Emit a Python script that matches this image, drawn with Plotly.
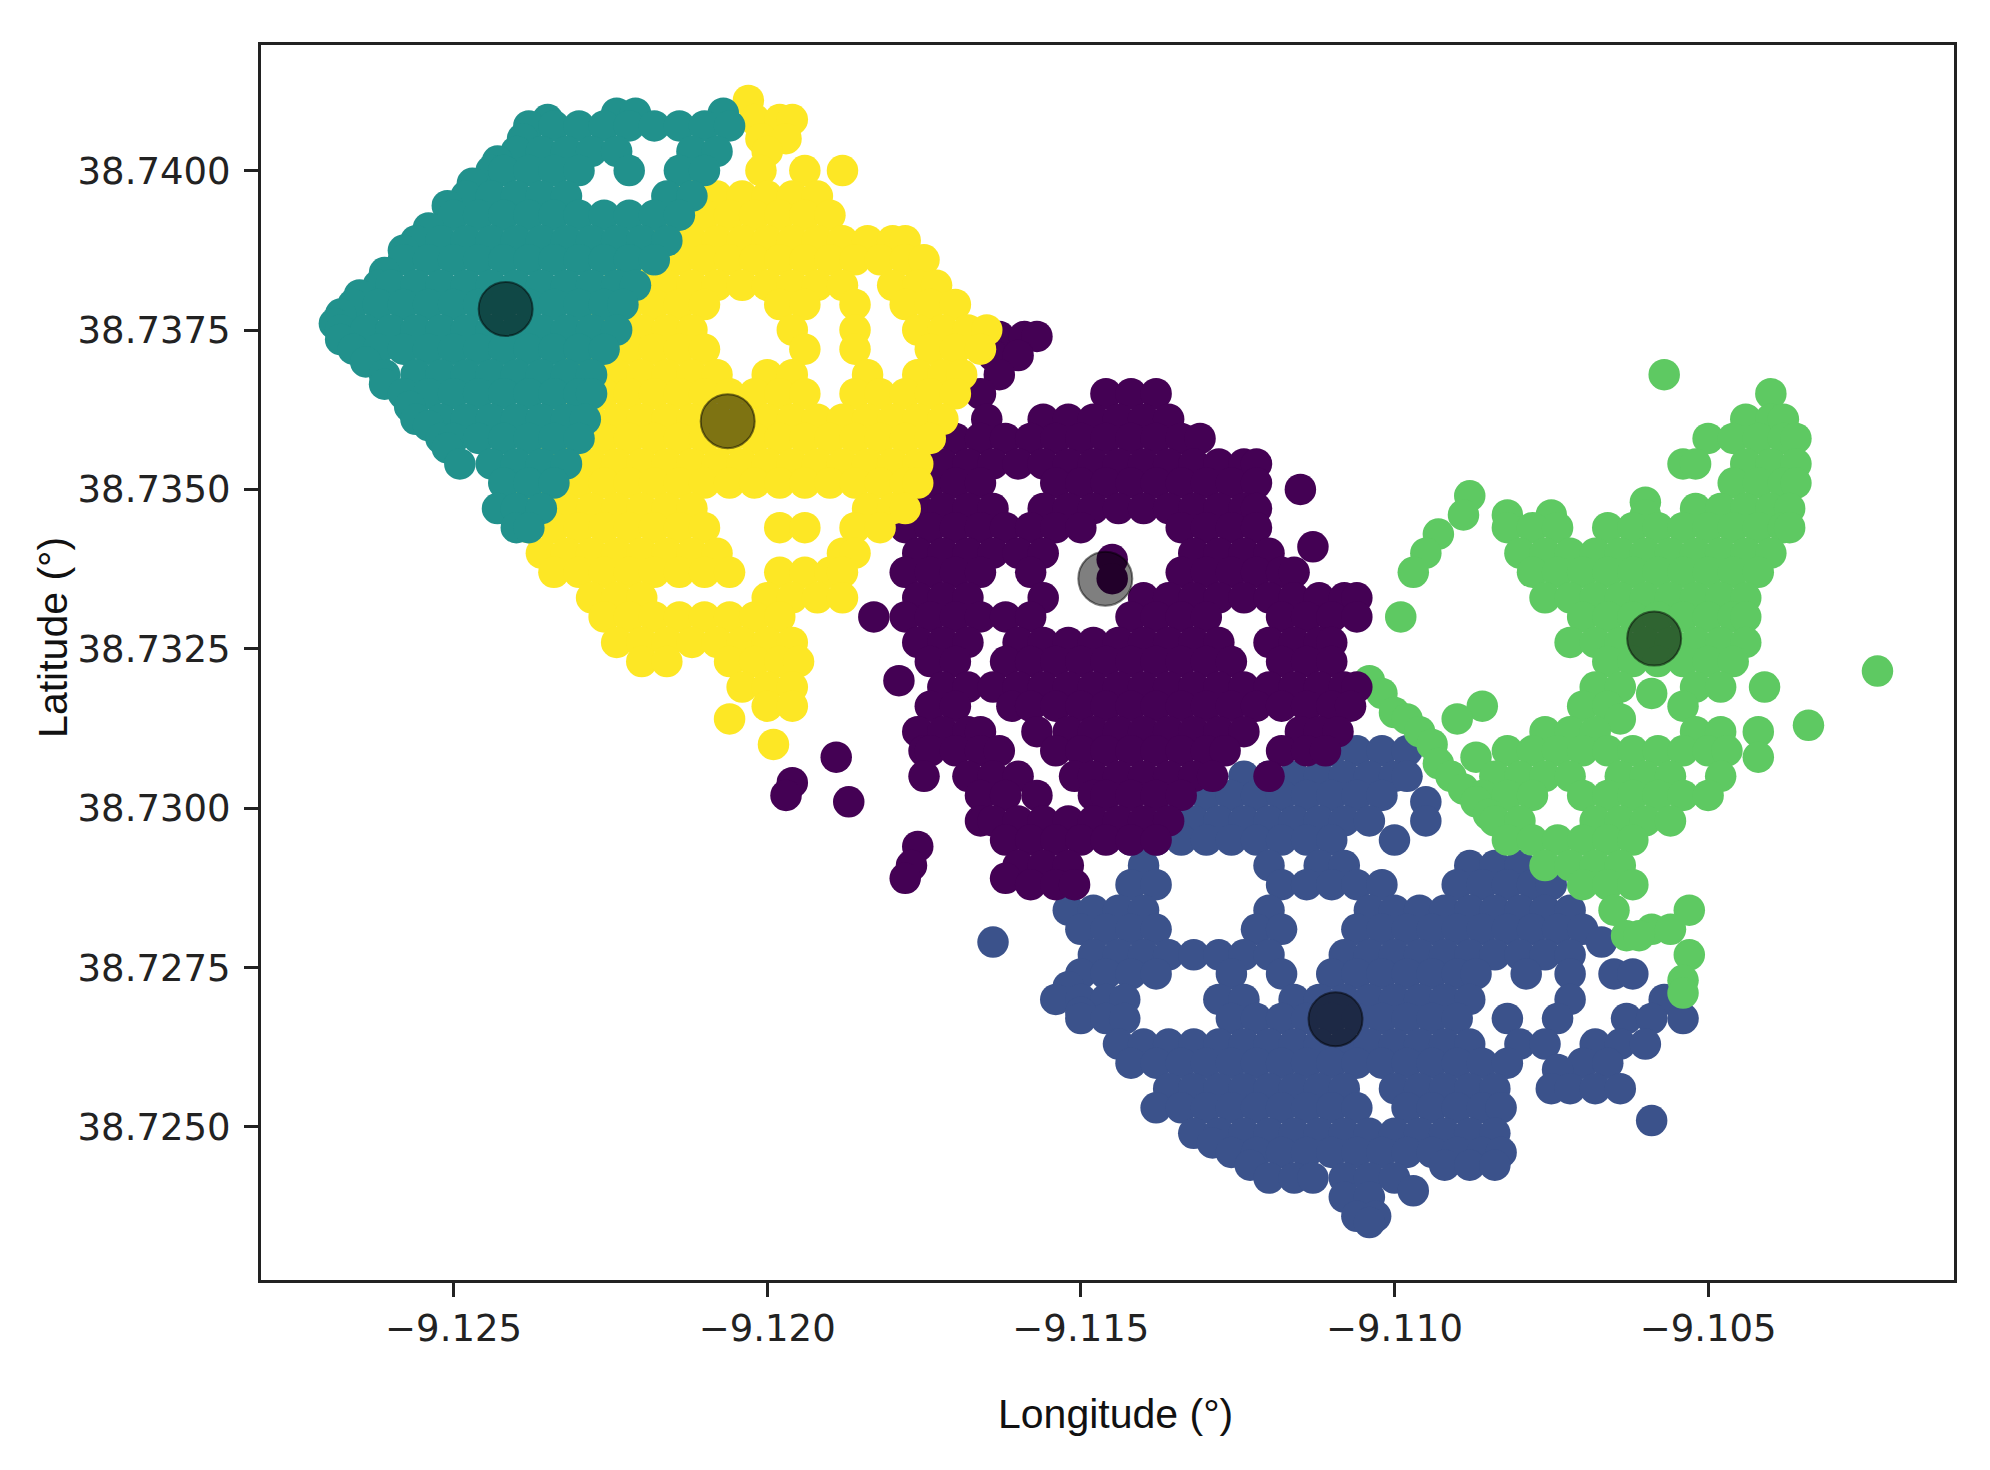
"""K-means clusters of points around Lisbon, with the cluster centres on top."""
import plotly.graph_objects as go

# every row is (lat code, [lon codes])
# lat = 38.72 + code * 1e-4, lon = -9.1 - code * 1e-4
LAT_BASE = 38.72
LON_BASE = -9.1

teal_rows = [
    (209, [224, 221, 207]),
    (208, [235]),
    (207, [238, 234, 230, 226, 222, 218, 214, 210, 206]),
    (205, [239]),
    (203, [240, 236, 232, 228, 224, 212, 208]),
    (201.5, [243]),
    (200, [244, 242, 238, 234, 230, 222, 214, 210]),
    (198, [247]),
    (196, [248, 244, 240, 236, 232, 216, 212]),
    (194.5, [251]),
    (193, [250, 246, 242, 238, 234, 230, 226, 222, 218, 214]),
    (191, [254]),
    (189, [256, 252, 248, 244, 240, 236, 232, 228, 224, 220, 216]),
    (187.5, [258]),
    (186, [258, 254, 250, 246, 242, 238, 234, 230, 226, 222, 218]),
    (184, [261]),
    (182, [262, 260, 256, 252, 248, 244, 240, 236, 232, 228, 224, 221]),
    (180.5, [265]),
    (179, [266, 262, 258, 254, 250, 246, 242, 238, 234, 230, 226, 223]),
    (177.5, [268]),
    (176, [269]),
    (175, [268, 264, 260, 256, 252, 248, 244, 240, 236, 232, 228, 224]),
    (173.5, [268]),
    (172, [266, 262, 258, 254, 250, 246, 242, 238, 234, 230, 226]),
    (170, [264]),
    (168, [261, 256, 252, 248, 244, 240, 236, 232, 228]),
    (166.5, [261]),
    (165, [258, 254, 250, 246, 242, 238, 234, 230, 228]),
    (163, [257]),
    (161, [256, 252, 248, 244, 240, 236, 232, 229]),
    (160, [254]),
    (158, [252, 250, 246, 242, 238, 234, 230]),
    (156.5, [251]),
    (154, [249, 244, 240, 236, 232]),
    (151, [242, 238, 234]),
    (147, [243, 240, 236]),
    (144, [240, 238]),
]

yellow_rows = [
    (211, [203]),
    (208, [202, 198, 196]),
    (205, [201, 197]),
    (203, [200]),
    (200, [201, 194, 188]),
    (196, [212, 208, 204, 200, 196, 192]),
    (193, [214, 210, 206, 202, 198, 194, 190]),
    (189, [216, 212, 208, 204, 200, 196, 192, 188, 184, 180, 178]),
    (186, [218, 214, 210, 206, 202, 198, 194, 190, 186, 182, 178, 175]),
    (182, [224, 220, 216, 212, 208, 204, 200, 196, 192, 188, 180, 176, 173]),
    (179, [226, 222, 218, 214, 210, 198, 194, 186, 178, 174, 170]),
    (175, [228, 224, 220, 216, 212, 196, 186, 176, 172, 168, 165]),
    (172, [230, 226, 222, 218, 214, 210, 194, 186, 174, 170, 166]),
    (168, [228, 224, 220, 216, 212, 208, 200, 196, 184, 176, 172, 169]),
    (165, [230, 226, 222, 218, 214, 210, 206, 202, 198, 194, 186, 182, 178, 174, 170]),
    (161, [232, 228, 224, 220, 216, 212, 208, 204, 200, 196, 192, 188, 184, 180, 176, 172]),
    (158, [234, 230, 226, 222, 218, 214, 210, 206, 202, 198, 194, 190, 186, 182, 178, 174]),
    (154, [236, 232, 228, 224, 220, 216, 212, 208, 204, 200, 196, 192, 188, 184, 180, 176]),
    (151, [238, 234, 230, 226, 222, 218, 214, 210, 206, 202, 198, 194, 190, 186, 182, 178, 176]),
    (147, [240, 236, 232, 228, 224, 220, 216, 212, 184, 180, 178]),
    (144, [238, 234, 230, 226, 222, 218, 214, 210, 198, 194, 186, 182]),
    (140, [236, 232, 228, 224, 220, 216, 212, 208, 188, 186]),
    (137, [234, 230, 226, 222, 218, 214, 210, 206, 198, 194, 190, 188]),
    (133, [228, 224, 220, 200, 196, 192, 188]),
    (130, [226, 222, 218, 214, 210, 206, 202, 198]),
    (126, [224, 220, 216, 212, 208, 204, 200, 196]),
    (123, [220, 216, 206, 202, 198, 195]),
    (119, [204, 200, 196]),
    (116, [200, 196]),
    (114, [206]),
    (110, [199]),
]

purple_rows = [
    (174, [163, 159, 157]),
    (171, [164, 160]),
    (168, [163]),
    (165, [166, 146, 142, 138]),
    (161, [165, 156, 152, 148, 144, 140, 136]),
    (158, [170, 166, 162, 158, 154, 150, 146, 142, 138, 134, 131]),
    (154, [172, 168, 164, 160, 156, 152, 148, 144, 140, 136, 132, 128, 124, 122]),
    (151, [174, 170, 166, 154, 150, 146, 142, 138, 134, 130, 126, 122]),
    (150, [115]),
    (147, [176, 172, 168, 164, 156, 152, 148, 144, 140, 136, 132, 128, 124, 122]),
    (144, [178, 174, 170, 166, 162, 158, 154, 150, 134, 130, 126, 122]),
    (141, [113]),
    (140, [176, 172, 168, 164, 160, 156, 132, 128, 124, 120]),
    (139, [145]),
    (137, [178, 174, 170, 166, 158, 134, 130, 126, 122, 118, 116]),
    (136, [145]),
    (133, [176, 172, 168, 156, 140, 136, 132, 128, 124, 120, 116, 112, 108, 106]),
    (130, [183, 178, 174, 170, 166, 162, 158, 142, 138, 134, 130, 118, 114, 110, 106]),
    (126, [176, 172, 168, 160, 156, 152, 148, 144, 140, 136, 132, 128, 120, 116, 112, 110]),
    (123, [174, 170, 162, 158, 154, 150, 146, 142, 138, 134, 130, 126, 118, 114, 110]),
    (120, [179]),
    (119, [172, 168, 164, 160, 156, 152, 148, 144, 140, 136, 132, 128, 124, 120, 116, 112, 108, 106]),
    (116, [174, 170, 161, 158, 154, 150, 146, 142, 138, 134, 130, 126, 122, 118, 114, 110, 107]),
    (112, [176, 172, 168, 166, 157, 152, 148, 144, 140, 136, 132, 128, 124, 115, 112, 109]),
    (109, [175, 174, 170, 166, 163, 154, 150, 146, 142, 138, 134, 130, 127, 118, 114, 111]),
    (108, [189]),
    (105, [175, 168, 164, 160, 151, 148, 144, 140, 136, 132, 129, 120]),
    (104, [196]),
    (102, [197, 166, 162, 157, 148, 146, 142, 138, 134]),
    (101, [187]),
    (98, [166, 164, 160, 156, 152, 148, 144, 140, 136]),
    (95, [162, 158, 154, 150, 146, 142, 138]),
    (94, [176]),
    (91, [177, 160, 156, 152]),
    (89, [178, 162]),
    (88, [158, 154, 151]),
]

blue_rows = [
    (109, [110, 106, 102, 98]),
    (105, [124, 120, 116, 112, 108, 104, 100, 98]),
    (102, [130, 126, 122, 118, 114, 110, 106, 102]),
    (101, [95]),
    (98, [136, 132, 128, 124, 120, 116, 112, 108, 104, 95]),
    (95, [142, 138, 134, 130, 126, 122, 118, 114, 110, 100]),
    (91, [140, 120, 112, 108, 88, 84, 80]),
    (88, [152, 142, 138, 118, 114, 110, 106, 102, 90, 86, 82, 78, 75]),
    (84, [152, 148, 144, 140, 120, 104, 100, 96, 92, 88, 84, 80, 76, 72]),
    (81, [150, 146, 142, 138, 122, 118, 106, 102, 98, 94, 90, 86, 82, 78, 74, 70]),
    (79, [164, 67]),
    (77, [148, 144, 140, 136, 132, 128, 124, 120, 108, 104, 100, 96, 92, 88, 84, 80, 76, 72]),
    (74, [150, 146, 142, 138, 126, 118, 110, 106, 102, 98, 94, 90, 87, 79, 72, 65, 62]),
    (72, [152]),
    (70, [154, 150, 146, 143, 128, 124, 116, 112, 108, 104, 100, 96, 92, 88, 72, 57]),
    (68, [150]),
    (67, [150, 146, 143, 126, 122, 118, 114, 110, 106, 102, 98, 94, 90, 82, 74, 63, 59, 54]),
    (63, [144, 140, 136, 132, 128, 124, 120, 116, 112, 108, 104, 100, 96, 92, 88, 80, 76, 68, 64, 60]),
    (60, [142, 138, 134, 130, 126, 122, 118, 114, 110, 106, 102, 98, 94, 90, 86, 82, 70, 66]),
    (59, [74]),
    (56, [136, 132, 128, 124, 120, 116, 112, 108, 100, 96, 92, 88, 84, 75, 72, 68, 64]),
    (53, [138, 134, 130, 126, 122, 118, 114, 110, 106, 98, 94, 90, 86, 83]),
    (51, [59]),
    (49, [132, 128, 124, 120, 116, 112, 108, 104, 100, 96, 92, 88, 84]),
    (47.5, [129]),
    (46, [126, 122, 118, 114, 110, 106, 102, 98, 94, 90, 86, 83]),
    (44, [123, 92, 88, 84]),
    (42, [120, 116, 113, 108, 104, 100]),
    (40, [97]),
    (39, [108, 104]),
    (36, [106, 103]),
    (35, [104]),
]

green_rows = [
    (168, [57]),
    (165, [40]),
    (161, [44, 40, 38]),
    (158, [50, 46, 42, 38, 36]),
    (154, [54, 52, 44, 40, 36]),
    (151, [46, 42, 38, 36]),
    (149, [88]),
    (148, [60]),
    (147, [52, 48, 44, 40, 37]),
    (146, [89, 82, 75, 60]),
    (144, [82, 78, 74, 66, 62, 58, 54, 50, 46, 42, 38, 37]),
    (143, [93]),
    (140, [95, 80, 76, 72, 68, 64, 60, 56, 52, 48, 44, 40]),
    (137, [97, 78, 74, 70, 66, 62, 58, 54, 50, 46, 42]),
    (133, [76, 72, 68, 64, 60, 56, 52, 48, 44]),
    (130, [99, 70, 66, 62, 58, 54, 50, 46, 44]),
    (126, [72, 68, 64, 60, 56, 52, 48, 44]),
    (123, [66, 62, 58, 54, 50, 46]),
    (121.5, [23]),
    (120, [104]),
    (119, [68, 64, 52, 48, 41]),
    (118, [102, 59]),
    (116, [86, 70, 66, 54]),
    (115, [100]),
    (114, [98, 90, 64]),
    (113, [34]),
    (112, [96, 76, 72, 68, 52, 48, 42]),
    (110, [94]),
    (109, [82, 78, 74, 70, 66, 62, 58, 54, 50, 47]),
    (108, [87, 42]),
    (107, [93]),
    (105, [91, 84, 80, 76, 72, 64, 60, 56, 48]),
    (103, [89]),
    (102, [86, 82, 78, 70, 66, 62, 58, 54, 50]),
    (101, [87]),
    (99, [85]),
    (98, [84, 80, 68, 64, 60, 56]),
    (95, [82, 78, 74, 70, 66, 62]),
    (91, [76, 72, 68, 64]),
    (88, [70, 66, 62]),
    (84, [65, 53]),
    (81, [59, 56]),
    (80, [63, 61]),
    (77, [53]),
    (73, [54]),
    (71, [54]),
]

center_lon = [-9.12417, -9.12063, -9.11461, -9.10586, -9.11094]
center_lat = [38.73783, 38.73607, 38.73360, 38.73266, 38.72669]

x_ticks = [-9.125, -9.120, -9.115, -9.110, -9.105]
y_ticks = [38.7250, 38.7275, 38.7300, 38.7325, 38.7350, 38.7375, 38.7400]

# draw order matters: later clusters sit on top at the borders
clusters = [
    (blue_rows, "#3b528b"),
    (green_rows, "#5ec962"),
    (purple_rows, "#440154"),
    (yellow_rows, "#fde725"),
    (teal_rows, "#21918c"),
]


def unpack(rows):
    """Turn the coded rows into lon and lat lists."""
    lons, lats = [], []
    for lat_code, lon_codes in rows:
        for lon_code in lon_codes:
            lons.append(LON_BASE - lon_code * 1e-4)
            lats.append(LAT_BASE + lat_code * 1e-4)
    return lons, lats


fig = go.Figure()
for rows, color in clusters:
    lons, lats = unpack(rows)
    fig.add_trace(
        go.Scatter(
            x=lons,
            y=lats,
            mode="markers",
            marker=dict(size=31.5, color=color, line=dict(width=0)),
            showlegend=False,
        )
    )

fig.add_trace(
    go.Scatter(
        x=center_lon,
        y=center_lat,
        mode="markers",
        marker=dict(
            size=54,
            color="rgba(0,0,0,0.5)",
            line=dict(width=2, color="rgba(0,0,0,0.5)"),
        ),
        showlegend=False,
    )
)

axis_style = dict(
    showgrid=False,
    zeroline=False,
    showline=True,
    mirror=True,
    linecolor="#222222",
    linewidth=3,
    ticks="outside",
    ticklen=14,
    tickwidth=3,
    tickcolor="#222222",
    tickfont=dict(family="DejaVu Sans", size=37, color="#222222"),
)

fig.update_xaxes(
    range=[-9.12807, -9.10108],
    tickvals=x_ticks,
    tickformat=".3f",
    ticklabelstandoff=0,
    **axis_style,
)
fig.update_yaxes(
    range=[38.7226, 38.74197],
    tickvals=y_ticks,
    tickformat=".4f",
    ticklabelstandoff=6,
    **axis_style,
)

fig.add_annotation(
    text="Longitude (°)",
    xref="paper",
    yref="paper",
    x=0.505,
    y=-0.1087,
    xanchor="center",
    yanchor="middle",
    showarrow=False,
    font=dict(family="Liberation Sans", size=41, color="#111111"),
)
fig.add_annotation(
    text="Latitude (°)",
    xref="paper",
    yref="paper",
    x=-0.1228,
    y=0.52,
    xanchor="center",
    yanchor="middle",
    textangle=-90,
    showarrow=False,
    font=dict(family="Liberation Sans", size=41, color="#111111"),
)

fig.update_layout(
    width=1990,
    height=1470,
    margin=dict(l=253, r=44, t=37, b=198),
    paper_bgcolor="white",
    plot_bgcolor="white",
)

fig.write_html("out.html")
